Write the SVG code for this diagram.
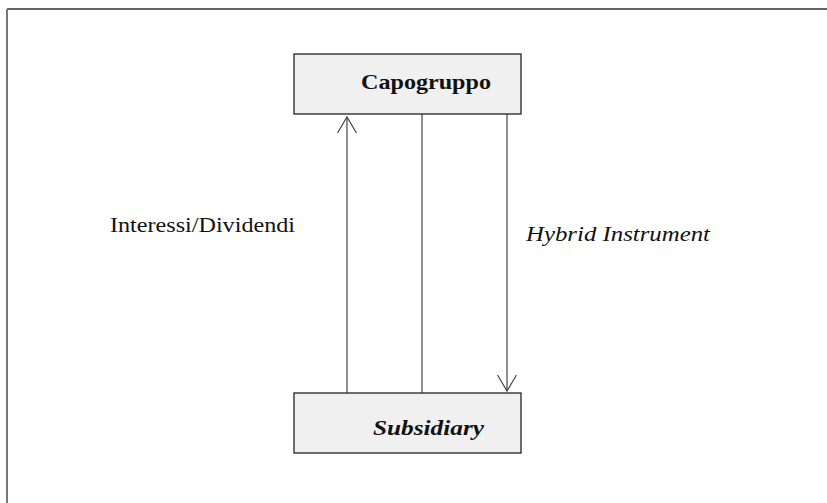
<svg xmlns="http://www.w3.org/2000/svg" width="827" height="503" viewBox="0 0 827 503">
<style>
.box{fill:#f0f0f0;stroke:#222;stroke-width:1.3}
.conn{stroke:#444;stroke-width:1.2;fill:none}
.t{font-family:"Liberation Serif","Times New Roman",serif;fill:#111;font-size:21px}
</style>
<defs>
<marker id="arr" viewBox="0 0 20 20" refX="16" refY="10" markerWidth="20" markerHeight="20" markerUnits="userSpaceOnUse" orient="auto">
<path d="M0,0.5 L16,10 L0,19.5" fill="none" stroke="#444" stroke-width="1.2"/>
</marker>
</defs>
<rect width="827" height="503" fill="#fff"/>
<g id="frame">
<line x1="7" y1="9" x2="827" y2="9" stroke="#333" stroke-width="1.5"/>
<line x1="7" y1="9" x2="7" y2="503" stroke="#777" stroke-width="2"/>
</g>
<g id="connectors">
<line class="conn" x1="347" y1="393" x2="347" y2="117" marker-end="url(#arr)"/>
<line class="conn" x1="422" y1="114" x2="422" y2="393"/>
<line class="conn" x1="507" y1="114" x2="507" y2="391" marker-end="url(#arr)"/>
</g>
<g id="capogruppo">
<rect class="box" x="294" y="54" width="227" height="60"/>
<text class="t" x="426" y="89" font-weight="bold" text-anchor="middle" textLength="130" lengthAdjust="spacingAndGlyphs">Capogruppo</text>
</g>
<g id="subsidiary">
<rect class="box" x="294" y="393" width="227" height="60"/>
<text class="t" x="428.5" y="435" font-weight="bold" font-style="italic" text-anchor="middle" textLength="111" lengthAdjust="spacingAndGlyphs">Subsidiary</text>
</g>
<g id="labels">
<text class="t" x="110" y="232" textLength="185" lengthAdjust="spacingAndGlyphs">Interessi/Dividendi</text>
<text class="t" x="526" y="241" font-style="italic" textLength="184" lengthAdjust="spacingAndGlyphs">Hybrid Instrument</text>
</g>
</svg>
